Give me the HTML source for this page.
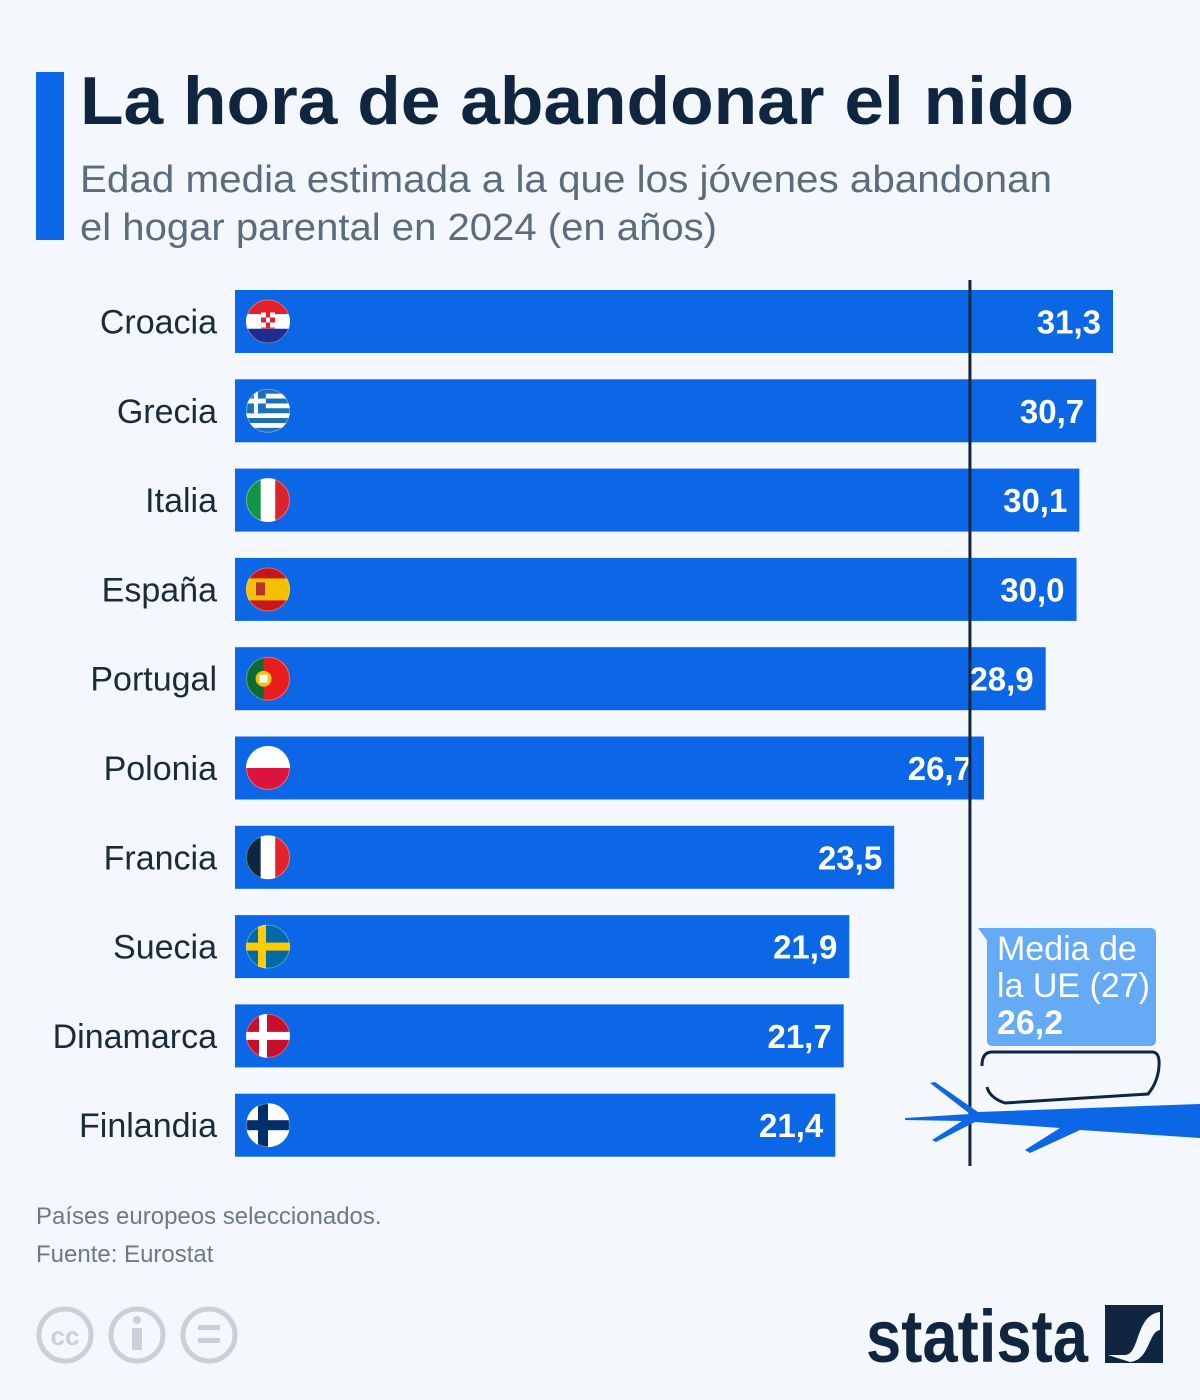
<!DOCTYPE html>
<html><head><meta charset="utf-8">
<style>
html,body{margin:0;padding:0;background:#f4f7fb;}
svg{display:block;font-family:"Liberation Sans","DejaVu Sans",sans-serif;}
</style></head>
<body>
<svg id="chart" width="1200" height="1400" viewBox="0 0 1200 1400" xmlns="http://www.w3.org/2000/svg">
<rect x="0" y="0" width="1200" height="1400" fill="#f4f7fb"/>
<rect x="36" y="72" width="28" height="168" fill="#0b67e6"/>
<text x="80" y="124" font-size="68" font-weight="bold" fill="#0f2540" textLength="994" lengthAdjust="spacingAndGlyphs">La hora de abandonar el nido</text>
<text x="80" y="192" font-size="38" fill="#5b6c7e"><tspan x="80" y="192" textLength="972" lengthAdjust="spacingAndGlyphs">Edad media estimada a la que los jóvenes abandonan</tspan><tspan x="80" y="240" textLength="637" lengthAdjust="spacingAndGlyphs">el hogar parental en 2024 (en años)</tspan></text>
<g id="bars"></g>
<g id="flags"></g>
<g id="labels"></g>
<g id="eu"></g>
<text x="36" y="1224" font-size="24" fill="#6b7a8a">Países europeos seleccionados.</text>
<text x="36" y="1262" font-size="24" fill="#6b7a8a">Fuente: Eurostat</text>
<g fill="none" stroke="#c8d1da" stroke-width="5">
<circle cx="65" cy="1335" r="26"/><text x="65" y="1345" font-size="26" font-weight="bold" fill="#c8d1da" stroke="none" text-anchor="middle">cc</text>
<circle cx="137" cy="1335" r="26"/><circle cx="137" cy="1320" r="4" fill="#c8d1da" stroke="none"/><rect x="132" y="1328" width="10" height="22" fill="#c8d1da" stroke="none"/>
<circle cx="209" cy="1335" r="26"/><rect x="198" y="1325" width="22" height="5" fill="#c8d1da" stroke="none"/><rect x="198" y="1338" width="22" height="5" fill="#c8d1da" stroke="none"/>
</g>
<g>
<text x="866" y="1362" font-size="74" font-weight="bold" fill="#0f2540" textLength="222" lengthAdjust="spacingAndGlyphs">statista</text>
<rect x="1105" y="1305" width="58" height="58" fill="#0f2540"/>
<path d="M1108 1355 L1125 1355 C1140 1355 1135 1315 1160 1312 L1160 1330 C1148 1332 1150 1360 1130 1362 Z" fill="#f4f7fb"/>
</g>
</svg>
<script>
var countries=["Croacia","Grecia","Italia","España","Portugal","Polonia","Francia","Suecia","Dinamarca","Finlandia"];
var values=[31.3,30.7,30.1,30.0,28.9,26.7,23.5,21.9,21.7,21.4];
var valueLabels=["31,3","30,7","30,1","30,0","28,9","26,7","23,5","21,9","21,7","21,4"];
var euAverage=26.2;
var euLabel="26,2";
var flagCodes=["hr","gr","it","es","pt","pl","fr","se","dk","fi"];
var NS="http://www.w3.org/2000/svg";
var x0=235, pxPerUnit=878/31.3;
function xScale(v){return x0+v*pxPerUnit;}
var top0=290, step=89.3, barH=63;
function yScale(i){return top0+i*step;}
function mk(tag,attrs,parent){var e=document.createElementNS(NS,tag);for(var k in attrs)e.setAttribute(k,attrs[k]);parent.appendChild(e);return e;}
var gB=document.getElementById('bars'),gF=document.getElementById('flags'),gL=document.getElementById('labels'),gE=document.getElementById('eu');
var defs=mk('defs',{},document.getElementById('chart'));
function flag(code,cx,cy,i){
  var r=22;
  var cp=mk('clipPath',{id:'cf'+i},defs);mk('circle',{cx:cx,cy:cy,r:r},cp);
  var g=mk('g',{'clip-path':'url(#cf'+i+')'},gF);
  
  
  var L=cx-r,T=cy-r,S=2*r;
  function R(x,y,w,h,c){mk('rect',{x:x,y:y,width:w,height:h,fill:c},g);}
  if(code=='hr'){R(L,T,S,S/3,'#e4202a');R(L,T+S/3,S,S/3,'#fff');R(L,T+2*S/3,S,S/3,'#1f2c8f');R(cx-7,cy-9,14,16,'#e4202a');R(cx-7,cy-9,5,5,'#fff');R(cx+2,cy-9,5,5,'#fff');R(cx-2,cy-4,4,5,'#fff');R(cx-7,cy+1,5,5,'#fff');R(cx+2,cy+1,5,5,'#fff');}
  else if(code=='gr'){for(var k=0;k<9;k++)R(L,T+k*S/9,S,S/9,k%2?'#fff':'#1d6fb8');R(L,T,S*0.45,S*5/9,'#1d6fb8');R(L+S*0.18,T,S*0.09,S*5/9,'#fff');R(L,T+S*2/9,S*0.45,S/9,'#fff');}
  else if(code=='it'){R(L,T,S/3,S,'#129447');R(L+S/3,T,S/3,S,'#fff');R(L+2*S/3,T,S/3,S,'#d9232d');}
  else if(code=='es'){R(L,T,S,S,'#c4161c');R(L,T+S/4,S,S/2,'#f6bf00');R(cx-12,cy-7,9,13,'#b8312f');}
  else if(code=='pt'){R(L,T,S,S,'#e81c1c');R(L,T,S*0.4,S,'#0b6b33');mk('circle',{cx:L+S*0.4,cy:cy,r:8,fill:'#f2c200'},g);mk('rect',{x:L+S*0.4-4,y:cy-4,width:8,height:8,fill:'#fff'},g);}
  else if(code=='pl'){R(L,T,S,S/2,'#fff');R(L,T+S/2,S,S/2,'#dc143c');}
  else if(code=='fr'){R(L,T,S/3,S,'#0f2540');R(L+S/3,T,S/3,S,'#fff');R(L+2*S/3,T,S/3,S,'#e1232d');}
  else if(code=='se'){R(L,T,S,S,'#006aa7');R(L,cy-4,S,8,'#fecc00');R(cx-10,T,8,S,'#fecc00');}
  else if(code=='dk'){R(L,T,S,S,'#c8102e');R(L,cy-4,S,8,'#fff');R(cx-9,T,8,S,'#fff');}
  else if(code=='fi'){R(L,T,S,S,'#fff');R(L,cy-5,S,10,'#002f6c');R(cx-10,T,10,S,'#002f6c');}
  mk('circle',{cx:cx,cy:cy,r:r-0.5,fill:'none',stroke:'rgba(255,255,255,0.35)','stroke-width':1},gF);
}
for(var i=0;i<countries.length;i++){
  var y=yScale(i), xe=xScale(values[i]);
  var b=mk('rect',{x:x0,y:y,width:xe-x0,height:barH,fill:'#0b67e6'},gB);
  
  
  var t=mk('text',{x:217,y:y+barH/2+12,'font-size':34,fill:'#1a2b3c','text-anchor':'end'},gL);
  t.textContent=countries[i];
  
  
  var v=mk('text',{x:xe-12,y:y+barH/2+12,'font-size':33,'font-weight':'bold',fill:'#fff','text-anchor':'end'},gL);
  v.textContent=valueLabels[i];
  
  
  flag(flagCodes[i],268,y+barH/2,i);
}
var ex=xScale(euAverage);
var ln=mk('line',{x1:ex,y1:280,x2:ex,y2:1166,stroke:'#0f2540','stroke-width':3},gE);


var box=mk('path',{d:'M'+(ex+8)+' 928 L1150 928 Q1156 928 1156 934 L1156 1040 Q1156 1046 1150 1046 L'+(ex+23)+' 1046 Q'+(ex+17)+' 1046 '+(ex+17)+' 1040 L'+(ex+17)+' 940 Z',fill:'#64aaf5'},gE);


var t1=mk('text',{x:ex+27,y:960,'font-size':34,fill:'#fff'},gE);t1.textContent='Media de';
var t2=mk('text',{x:ex+27,y:997,'font-size':34,fill:'#fff'},gE);t2.textContent='la UE (27)';
var t3=mk('text',{x:ex+27,y:1034,'font-size':34,'font-weight':'bold',fill:'#fff'},gE);t3.textContent=euLabel;
mk('path',{d:'M'+(ex+12)+' 1066 Q'+(ex+12)+' 1052 '+(ex+22)+' 1052 L1152 1052 Q1160 1052 1159 1066 Q1158 1082 1148 1094 L'+(ex+35)+' 1103 Q'+(ex+20)+' 1098 '+(ex+17)+' 1087',fill:'none',stroke:'#0f2540','stroke-width':3},gE);
var ar=mk('path',{d:'M905 1118 L970 1114 L930 1083 L935 1082 L978 1112 L1200 1104 L1200 1138 L1080 1130 L1030 1153 L1025 1150 L1060 1128 L975 1122 L936 1142 L932 1140 L962 1121 L905 1120 Z',fill:'#0b67e6'},gE);


</script>
</body></html>
